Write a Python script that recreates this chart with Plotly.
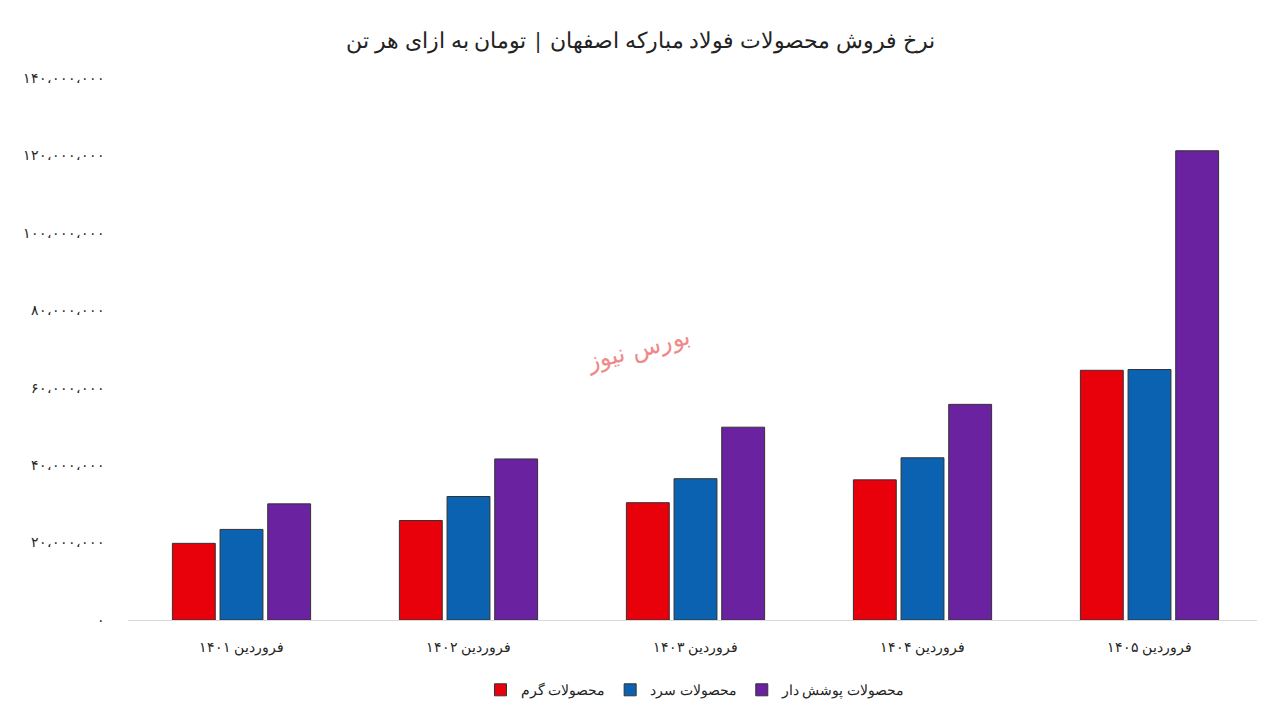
import plotly.graph_objects as go

categories = ["فروردین ۱۴۰۱", "فروردین ۱۴۰۲", "فروردین ۱۴۰۳", "فروردین ۱۴۰۴", "فروردین ۱۴۰۵"]
hot = [19.8e6, 25.7e6, 30.3e6, 36.2e6, 64.5e6]
cold = [23.4e6, 31.9e6, 36.5e6, 41.9e6, 64.7e6]
coated = [30.0e6, 41.6e6, 49.8e6, 55.7e6, 121.2e6]
names = ["محصولات گرم", "محصولات سرد", "محصولات پوشش دار"]
colors = ["#e8000b", "#0a62b0", "#6a22a0"]
tickvals = [0, 20e6, 40e6, 60e6, 80e6, 100e6, 120e6, 140e6]
ticktext = ["۰", "۲۰،۰۰۰،۰۰۰", "۴۰،۰۰۰،۰۰۰", "۶۰،۰۰۰،۰۰۰", "۸۰،۰۰۰،۰۰۰",
            "۱۰۰،۰۰۰،۰۰۰", "۱۲۰،۰۰۰،۰۰۰", "۱۴۰،۰۰۰،۰۰۰"]

fig = go.Figure()
for n, v, c in zip(names, [hot, cold, coated], colors):
    fig.add_bar(x=categories, y=v, name=n, marker=dict(color=c, line=dict(color="#333", width=1)))

fig.update_layout(
    width=1265, height=708, barmode="group", bargap=0.37, bargroupgap=0.1,
    plot_bgcolor="white", paper_bgcolor="white",
    font=dict(family="DejaVu Serif, Noto Sans", size=13, color="#222"),
    title=dict(text="نرخ فروش محصولات فولاد مبارکه اصفهان | تومان به ازای هر تن",
               x=0.5, y=0.965, xanchor="center", font=dict(size=22, family="Noto Sans")),
    margin=dict(l=120, r=10, t=70, b=84),
    legend=dict(orientation="h", x=0.5, xanchor="center", y=-0.1, yanchor="top",
                traceorder="normal", font=dict(size=14, family="Noto Sans")),
    xaxis=dict(showline=True, linecolor="#d9d9d9", ticklabelstandoff=14,
               tickfont=dict(size=14, family="Noto Sans")),
    yaxis=dict(range=[0, 140e6], tickvals=tickvals, ticktext=ticktext, showgrid=False,
               zeroline=False, ticks="", ticklabelstandoff=22,
               tickfont=dict(size=14)),
    annotations=[dict(text="بورس نیوز", x=0.45, y=0.5, xref="paper", yref="paper",
                      showarrow=False, textangle=-15,
                      font=dict(size=24, color="#f08a8a", family="DejaVu Serif"))],
)
fig.write_html("out.html")
